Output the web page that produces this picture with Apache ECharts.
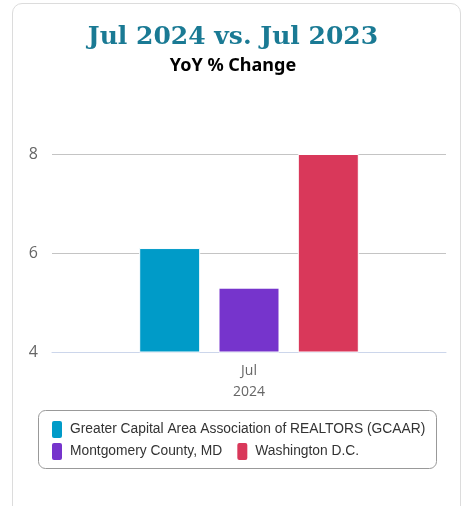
<!DOCTYPE html>
<html>
<head>
<meta charset="utf-8">
<script src="https://cdn.jsdelivr.net/npm/echarts@6/dist/echarts.min.js"></script>
<style>
html,body{margin:0;padding:0;background:#fff;}
#card{position:absolute;left:12px;top:3px;width:449px;height:520px;border:1px solid #dcdcdc;border-radius:10px;box-sizing:border-box;}
#chart{position:absolute;left:0;top:0;width:466px;height:506px;}
</style>
</head>
<body>
<div id="card"></div>
<div id="chart"></div>
<script>
const titleText = 'Jul 2024 vs. Jul 2023';
const subtitleText = 'YoY % Change';
const categories = ['Jul\n2024'];
const seriesNames = ['Greater Capital Area Association of REALTORS (GCAAR)', 'Montgomery County, MD', 'Washington D.C.'];
const seriesColors = ['#009bc8', '#7634cc', '#d9385a'];
const gcaarValues = [6.1];
const montgomeryValues = [5.3];
const dcValues = [8.0];
const yTicks = [4, 6, 8];

const chart = echarts.init(document.getElementById('chart'), null, {renderer: 'canvas'});
const values = [gcaarValues, montgomeryValues, dcValues];
const legendBase = {
  left: 50,
  padding: 0,
  itemWidth: 12,
  itemHeight: 19,
  icon: 'roundRect',
  textStyle: {fontFamily: 'Liberation Sans', fontSize: 13.8, color: '#333', padding: [9, 0, 0, 2]}
};
chart.setOption({
  animation: false,
  color: seriesColors,
  title: [{
    text: titleText,
    left: 'center',
    top: 20,
    textStyle: {fontFamily: 'DejaVu Serif', fontWeight: 'bold', fontSize: 25, color: '#1a7a94'}
  }, {
    text: subtitleText,
    left: 'center',
    top: 52,
    textStyle: {fontFamily: 'Noto Sans', fontWeight: 'bold', fontSize: 18, color: '#000'}
  }],
  graphic: [{
    type: 'rect',
    shape: {x: 38.5, y: 410.5, width: 398, height: 58, r: 7},
    style: {fill: 'none', stroke: '#999', lineWidth: 1},
    silent: true
  }],
  grid: {left: 52, right: 20, top: 154, bottom: 154, containLabel: false},
  xAxis: {
    type: 'category',
    data: categories,
    axisLine: {lineStyle: {color: '#ccd6eb', width: 1}},
    axisTick: {show: false},
    axisLabel: {color: '#666', fontSize: 14, fontFamily: 'Open Sans', lineHeight: 21, margin: 9}
  },
  yAxis: {
    type: 'value',
    min: yTicks[0],
    max: yTicks[yTicks.length - 1],
    interval: 2,
    axisLabel: {color: '#666', fontSize: 16, fontFamily: 'Open Sans', margin: 14},
    splitLine: {lineStyle: {color: '#c4c4c4', width: 1}},
    axisLine: {show: false},
    axisTick: {show: false}
  },
  legend: [
    Object.assign({}, legendBase, {top: 419, data: [seriesNames[0]]}),
    Object.assign({}, legendBase, {top: 441, itemGap: 13, data: [seriesNames[1], seriesNames[2]]})
  ],
  series: seriesNames.map((name, i) => ({
    name: name,
    type: 'bar',
    data: values[i],
    barWidth: 61,
    barGap: '30%',
    itemStyle: {borderColor: '#fff', borderWidth: 1}
  }))
});
</script>
</body>
</html>
